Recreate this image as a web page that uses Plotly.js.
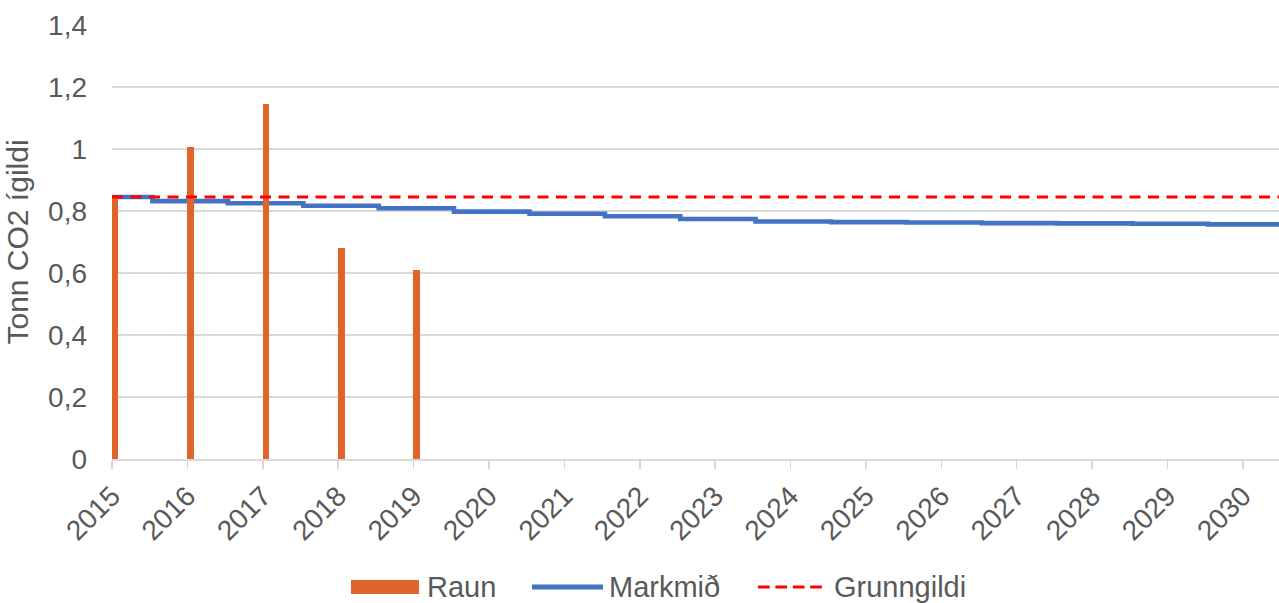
<!DOCTYPE html>
<html>
<head>
<meta charset="utf-8">
<script src="https://cdn.plot.ly/plotly-3.0.1.min.js"></script>
<style>
  html, body { margin: 0; padding: 0; background: #ffffff; }
  #chart { width: 1279px; height: 603px; }
</style>
</head>
<body>
<div id="chart"></div>
<script>
// ---- data ----
const raunDates = ["2015-01-16", "2016-01-16", "2017-01-16", "2018-01-16", "2019-01-16"];
const raunValues = [0.846, 1.006, 1.145, 0.681, 0.61];

const markmidDates = ["2015-01-01", "2015-07-16", "2016-07-16", "2017-07-16", "2018-07-16",
  "2019-07-16", "2020-07-16", "2021-07-16", "2022-07-16", "2023-07-16", "2024-07-16",
  "2025-07-16", "2026-07-16", "2027-07-16", "2028-07-16", "2029-07-16", "2030-06-25"];
const markmidValues = [0.845, 0.832, 0.825, 0.817, 0.809, 0.798, 0.791, 0.783, 0.774,
  0.766, 0.764, 0.763, 0.761, 0.760, 0.759, 0.757, 0.757];

const grunnDates = ["2015-01-01", "2030-06-25"];
const grunnValues = [0.845, 0.845];

const seriesNames = ["Raun", "Markmið", "Grunngildi"];
const yTitle = "Tonn CO2 ígildi";

// ---- style ----
const textColor = "#595959";
const gridColor = "#d9d9d9";
const orange = "#E0652B";
const blue = "#4472C4";
const red = "#FF0000";
const font = "Liberation Sans, Arial, sans-serif";

const traces = [
  {
    type: "scatter", mode: "lines", name: seriesNames[1],
    x: markmidDates, y: markmidValues, yaxis: "y",
    line: { color: blue, width: 4.6, shape: "hv" },
    showlegend: false, hoverinfo: "skip"
  },
  {
    type: "bar", name: seriesNames[0],
    x: raunDates, y: raunValues, yaxis: "y2",
    width: 31 * 24 * 3600 * 1000,
    marker: { color: orange, line: { width: 0 } },
    showlegend: false, hoverinfo: "skip"
  },
  {
    type: "scatter", mode: "lines", name: seriesNames[2],
    x: grunnDates, y: grunnValues, yaxis: "y2",
    line: { color: red, width: 3, dash: "11px,7.5px" },
    showlegend: false, hoverinfo: "skip"
  }
];

// legend helpers (paper coordinates)
const W = 1167, H = 434, L = 112, B = 459;
const px = v => (v - L) / W;
const py = v => (B - v) / H;

const shapes = [
  { type: "rect", xref: "paper", yref: "paper", x0: px(351), x1: px(419), y0: py(594), y1: py(580),
    fillcolor: orange, line: { width: 0 } },
  { type: "line", xref: "paper", yref: "paper", x0: px(532), x1: px(603), y0: py(587), y1: py(587),
    line: { color: blue, width: 5 } },
  { type: "line", xref: "paper", yref: "paper", x0: px(758), x1: px(824), y0: py(587), y1: py(587),
    line: { color: red, width: 3, dash: "11.7px,5.7px" } }
];

const legendFont = { family: font, size: 29, color: textColor };
const annotations = [
  { text: seriesNames[0], x: px(426), xanchor: "left" },
  { text: seriesNames[1], x: px(608), xanchor: "left" },
  { text: seriesNames[2], x: px(833), xanchor: "left" }
].map(a => Object.assign({ xref: "paper", yref: "paper", y: py(587), yanchor: "middle",
  showarrow: false, font: legendFont, borderpad: 0 }, a));

const layout = {
  width: 1279, height: 603,
  margin: { l: 112, r: 0, t: 25, b: 144 },
  paper_bgcolor: "#ffffff", plot_bgcolor: "#ffffff",
  separators: ", ",
  font: { family: font, size: 28, color: textColor },
  showlegend: false,
  bargap: 0,
  xaxis: {
    type: "date",
    range: ["2015-01-01", "2030-06-25"],
    tick0: "2015-01-01", dtick: "M12", tickformat: "%Y",
    tickangle: -45,
    ticks: "outside", ticklen: 8, tickcolor: gridColor, tickwidth: 1.5,
    showline: true, linecolor: gridColor, linewidth: 1.5,
    showgrid: false, zeroline: false,
    tickfont: { family: font, size: 28, color: textColor }
  },
  yaxis: {
    range: [0, 1.4], dtick: 0.2, tick0: 0,
    showgrid: true, gridcolor: gridColor, gridwidth: 1.5,
    zeroline: false, showline: false, ticks: "",
    ticklabelstandoff: 24,
    tickfont: { family: font, size: 28, color: textColor },
    title: { text: yTitle, font: { family: font, size: 30, color: textColor }, standoff: 10 }
  },
  yaxis2: {
    range: [0, 1.4], overlaying: "y", visible: false
  },
  shapes: shapes,
  annotations: annotations
};

Plotly.newPlot("chart", traces, layout, { displayModeBar: false, staticPlot: true });
</script>
</body>
</html>
